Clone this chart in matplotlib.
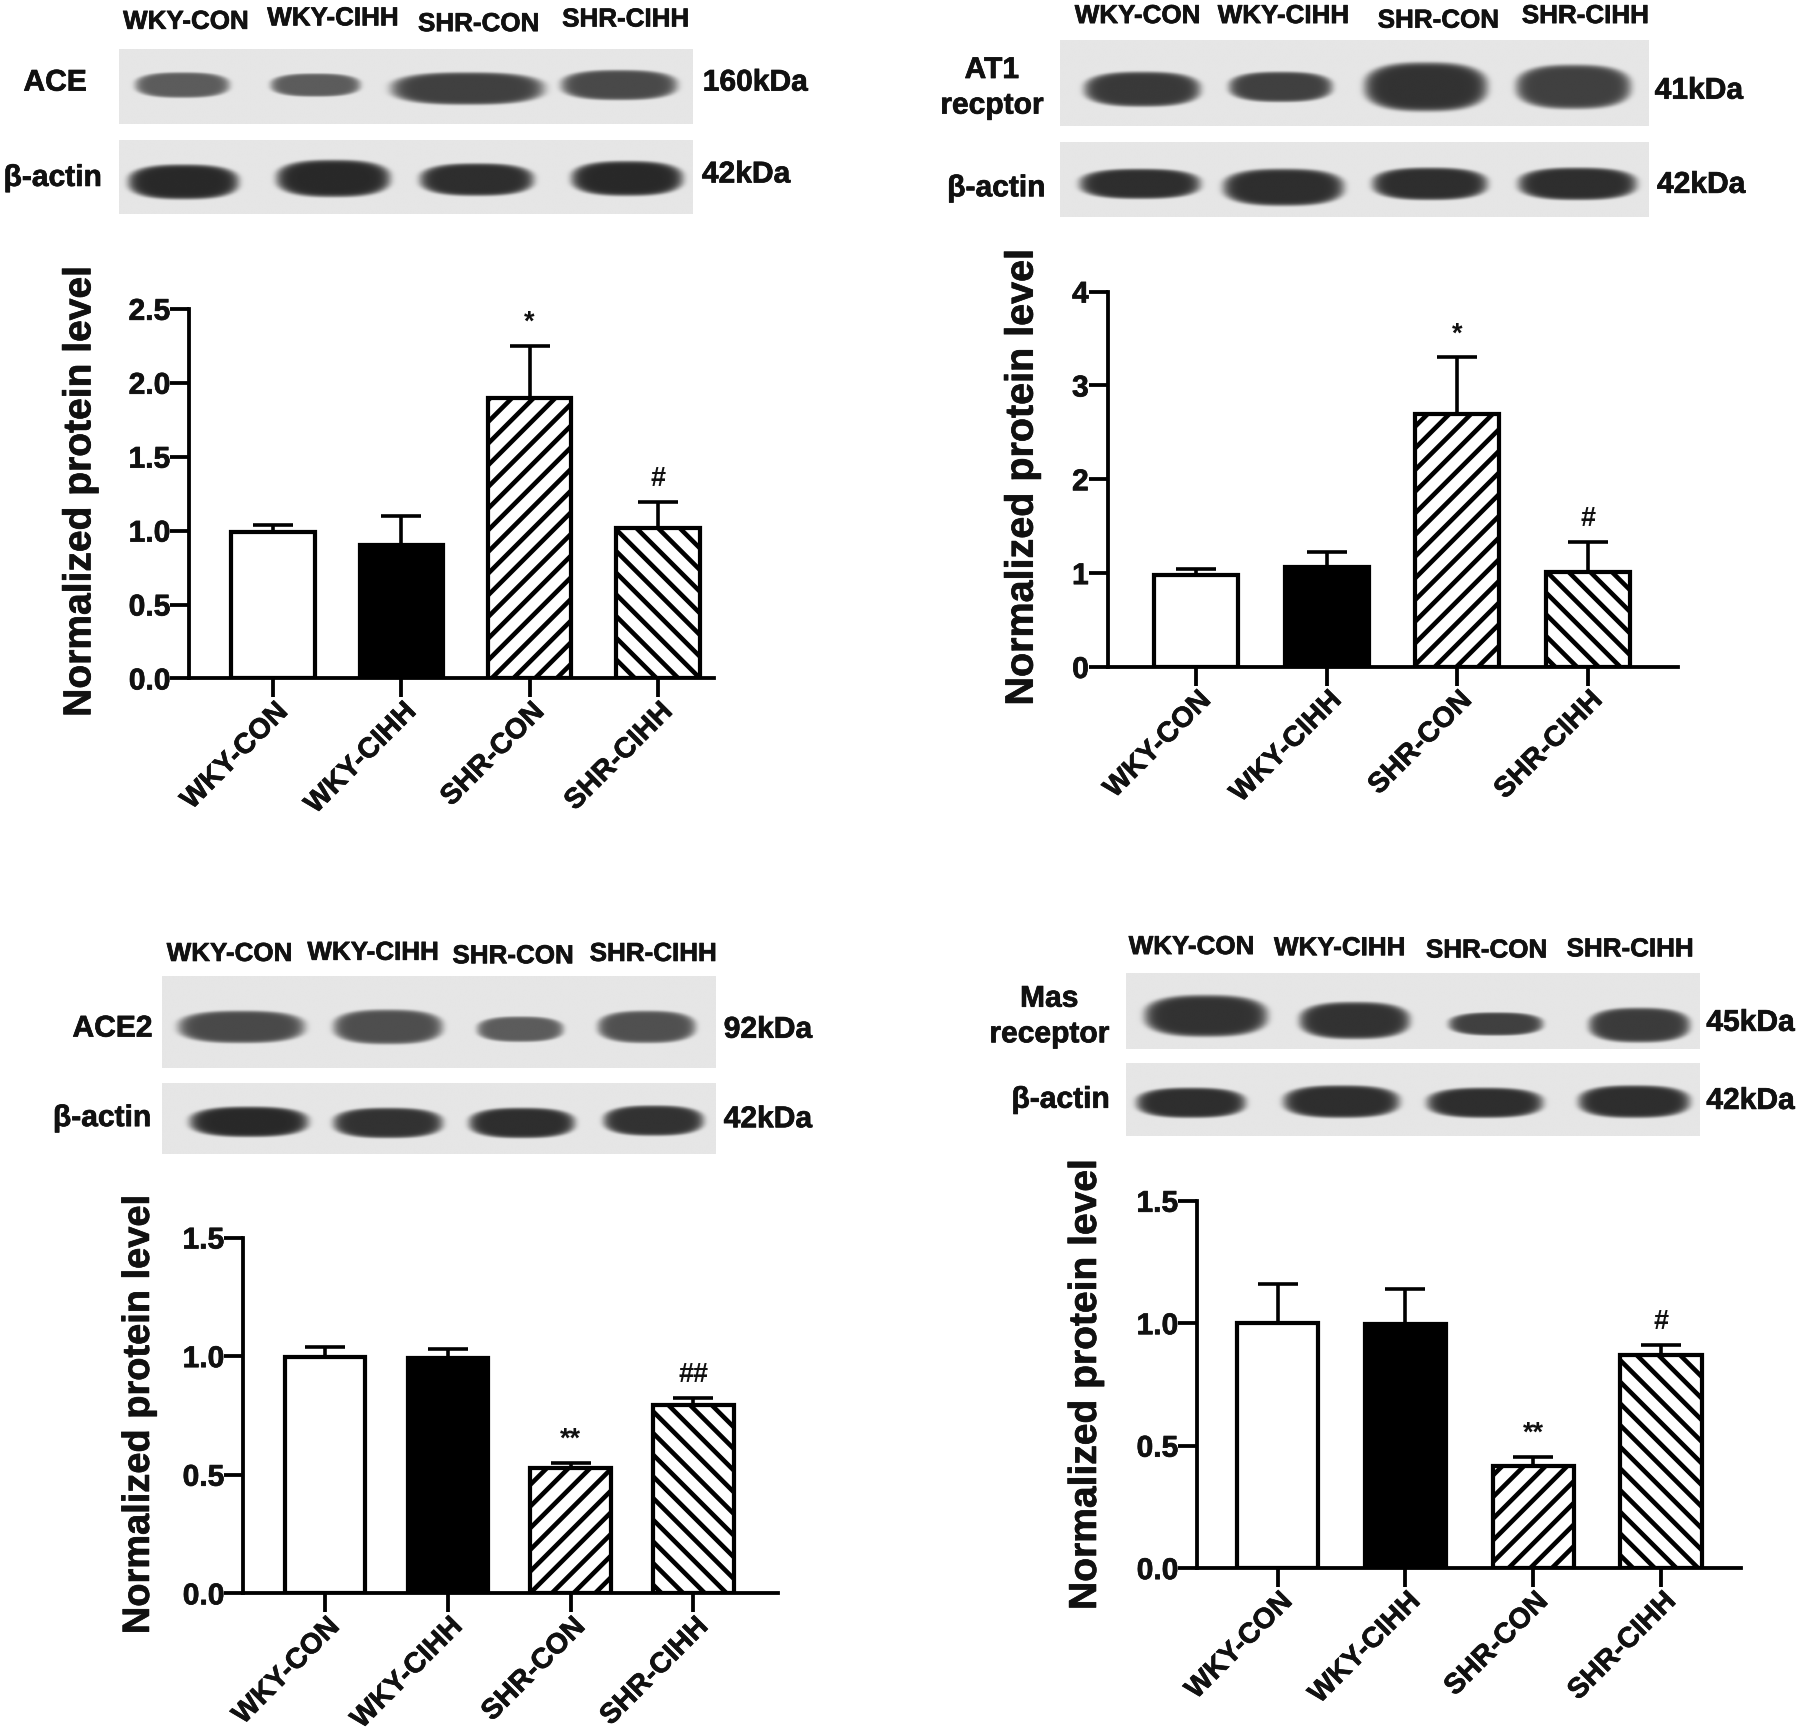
import numpy as np
import matplotlib
matplotlib.use('Agg')
import matplotlib.pyplot as plt
import matplotlib.patheffects as pe

DPI = 130
W, H = 1800, 1732
S = 1800 / 1568  # layout below is measured on the 1568 wide view
PT = 72 / DPI

plt.rcParams['font.family'] = ['Liberation Sans', 'DejaVu Sans']
plt.rcParams['font.weight'] = 'bold'
plt.rcParams['hatch.linewidth'] = 4.6 * PT
plt.rcParams['hatch.color'] = '#0a0a0a'

groups = ['WKY-CON', 'WKY-CIHH', 'SHR-CON', 'SHR-CIHH']

# protein levels and top of the error bars
ace_vals = [0.99, 0.90, 1.90, 1.02]
ace_tops = [1.04, 1.10, 2.25, 1.19]
ace_sig = ['', '', '*', '#']

at1_vals = [0.98, 1.07, 2.70, 1.01]
at1_tops = [1.04, 1.23, 3.30, 1.33]
at1_sig = ['', '', '*', '#']

ace2_vals = [0.995, 0.99, 0.53, 0.795]
ace2_tops = [1.04, 1.03, 0.55, 0.825]
ace2_sig = ['', '', '**', '##']

mas_vals = [1.0, 0.995, 0.415, 0.87]
mas_tops = [1.16, 1.14, 0.455, 0.91]
mas_sig = ['', '', '**', '#']

ace_ticks = [0.0, 0.5, 1.0, 1.5, 2.0, 2.5]
at1_ticks = [0, 1, 2, 3, 4]
ace2_ticks = [0.0, 0.5, 1.0, 1.5]
mas_ticks = [0.0, 0.5, 1.0, 1.5]

# blot bands: x start, x end, y centre, half height, darkness
ace_bands = [(118, 200, 74, 11, 0.6), (236, 314, 74, 10, 0.6), (341, 474, 77, 14, 0.72), (489, 590, 74, 13, 0.68)]
ace_actin = [(112, 208, 158, 15, 0.82), (241, 340, 155, 16, 0.82), (366, 465, 156, 14, 0.8), (498, 595, 155, 15, 0.82)]
at1_bands = [(944, 1045, 78, 15, 0.75), (1070, 1160, 76, 13, 0.72), (1188, 1295, 76, 21, 0.78), (1320, 1420, 76, 19, 0.72)]
at1_actin = [(940, 1045, 160, 13, 0.8), (1065, 1170, 163, 16, 0.8), (1195, 1295, 160, 14, 0.8), (1322, 1425, 160, 14, 0.8)]
ace2_bands = [(155, 265, 894, 14, 0.68), (290, 385, 894, 15, 0.66), (415, 490, 896, 11, 0.6), (520, 605, 894, 14, 0.65)]
ace2_actin = [(165, 268, 977, 13, 0.82), (290, 385, 978, 13, 0.78), (408, 500, 978, 13, 0.8), (525, 612, 976, 13, 0.78)]
mas_bands = [(997, 1104, 885, 18, 0.78), (1132, 1228, 889, 16, 0.78), (1262, 1344, 892, 10, 0.72), (1384, 1472, 893, 15, 0.74)]
mas_actin = [(990, 1085, 961, 13, 0.8), (1118, 1219, 960, 14, 0.8), (1243, 1344, 961, 13, 0.8), (1375, 1472, 960, 14, 0.8)]

fig = plt.figure(figsize=(W / DPI, H / DPI), dpi=DPI, facecolor='white')
heavy = [pe.withStroke(linewidth=0.7 * PT, foreground='#111111')]


def add_axes_px(x0, y0, x1, y1):
    # y0 is the top edge, all in the 1568 wide view
    return fig.add_axes([x0 * S / W, 1 - y1 * S / H, (x1 - x0) * S / W, (y1 - y0) * S / H])


def draw_blot(x0, y0, x1, y1, bands, bg=0.9):
    ax = add_axes_px(x0, y0, x1, y1)
    xx, yy = np.meshgrid(np.arange(x0, x1, 0.5), np.arange(y0, y1, 0.5))
    img = np.full(xx.shape, 0.0)
    for start, end, cy, hh, dark in bands:
        cx, hw = (start + end) / 2, (end - start) / 2
        r = np.abs((xx - cx) / hw) ** 2.6 + np.abs((yy - cy) / hh) ** 2.6
        img = np.maximum(img, dark * np.exp(-r ** 5))
    ax.imshow(bg * (1 - img), cmap='gray', vmin=0, vmax=1, aspect='auto', interpolation='bilinear')
    ax.axis('off')


def draw_bars(x_left, x_right, y_top, y_zero, centers, width, vals, tops, sig, ticks):
    ax = add_axes_px(x_left, y_top, x_right, y_zero)
    step = (centers[3] - centers[0]) / 3
    x = np.arange(4)
    ax.set_xlim((x_left - centers[0]) / step, (x_right - centers[0]) / step)
    ax.set_ylim(ticks[0], ticks[-1])
    colors = ['white', 'black', 'white', 'white']
    hatches = [None, None, '//', '\\\\']
    errs = [np.zeros(4), np.array(tops) - np.array(vals)]
    ax.errorbar(x, vals, yerr=errs, fmt='none', ecolor='black', elinewidth=3.6 * PT,
                capsize=20 * PT, capthick=3.6 * PT, zorder=1)
    ax.bar(x, vals, width=width / step, color=colors, edgecolor='black', linewidth=4.2 * PT,
           hatch=hatches, zorder=2)
    for i, s in enumerate(sig):
        if s:
            ax.annotate(s, (i, tops[i]), xytext=(0, 10 * PT), textcoords='offset points',
                        ha='center', va='bottom', fontsize=27 * PT, color='#111111', annotation_clip=False)
    for side in ['top', 'right']:
        ax.spines[side].set_visible(False)
    for side in ['left', 'bottom']:
        ax.spines[side].set_linewidth(3.8 * PT)
    ax.set_yticks(ticks)
    ax.set_yticklabels([str(t) for t in ticks], fontsize=30 * PT, color='#111111', path_effects=heavy)
    ax.set_xticks(x)
    ax.set_xticklabels(groups, fontsize=28.5 * PT, rotation=45, ha='right', rotation_mode='anchor',
                       color='#111111', path_effects=heavy)
    ax.tick_params(axis='both', width=3.8 * PT, length=19 * PT)
    ax.tick_params(axis='y', pad=0)
    ax.tick_params(axis='x', pad=0)
    return ax


# western blots
draw_blot(104, 43, 604, 108, ace_bands)
draw_blot(104, 122, 604, 186, ace_actin)
draw_blot(923, 35, 1436, 110, at1_bands)
draw_blot(923, 124, 1436, 189, at1_actin)
draw_blot(141, 850, 623, 930, ace2_bands)
draw_blot(141, 943, 623, 1005, ace2_actin)
draw_blot(981, 848, 1481, 914, mas_bands)
draw_blot(981, 926, 1481, 990, mas_actin)

# bar charts
draw_bars(165, 622, 269, 591, [238, 350, 461, 573], 73, ace_vals, ace_tops, ace_sig, ace_ticks)
draw_bars(965, 1462, 254, 581, [1042, 1155, 1269, 1383], 73, at1_vals, at1_tops, at1_sig, at1_ticks)
draw_bars(212, 678, 1078, 1388, [283, 390, 496, 604], 70, ace2_vals, ace2_tops, ace2_sig, ace2_ticks)
draw_bars(1043, 1517, 1046, 1366, [1113, 1224, 1335, 1447], 71, mas_vals, mas_tops, mas_sig, mas_ticks)

# overlay for the text around the panels, same coordinates as the layout
over = fig.add_axes([0, 0, 1, 1])
over.set_xlim(0, W / S)
over.set_ylim(H / S, 0)
over.axis('off')
over.patch.set_alpha(0)


def label(x, y, s, size=26, **kw):
    kw.setdefault('ha', 'center')
    over.text(x, y, s, fontsize=size * PT, va='center', color='#111111', path_effects=heavy, **kw)


ylabel_pos = [(70, 428, 39), (890, 416, 39.5), (121, 1232, 38), (946, 1206, 39)]
for x, y, size in ylabel_pos:
    label(x, y, 'Normalized protein level', size=size, rotation=90)

lane_pos = [
    [(162, 19), (290, 16), (417, 21), (545, 17)],
    [(991, 14), (1118, 14), (1253, 18), (1381, 14)],
    [(200, 831), (325, 830), (447, 833), (569, 831)],
    [(1038, 825), (1167, 826), (1295, 828), (1420, 827)],
]
for row in lane_pos:
    for (x, y), g in zip(row, groups):
        label(x, y, g)

side_labels = [
    (48, 72, 'ACE'), (46, 155, 'β-actin'),
    (864, 61, 'AT1'), (864, 92, 'recptor'), (868, 164, 'β-actin'),
    (98, 896, 'ACE2'), (89, 974, 'β-actin'),
    (914, 870, 'Mas'), (914, 901, 'receptor'), (924, 958, 'β-actin'),
]
for x, y, s in side_labels:
    label(x, y, s, size=30)

kda_labels = [
    (658, 72, '160kDa'), (650, 152, '42kDa'),
    (1480, 79, '41kDa'), (1482, 161, '42kDa'),
    (669, 897, '92kDa'), (669, 975, '42kDa'),
    (1525, 891, '45kDa'), (1525, 959, '42kDa'),
]
for x, y, s in kda_labels:
    label(x, y, s, size=30)

fig.savefig('out.png', dpi=DPI)
